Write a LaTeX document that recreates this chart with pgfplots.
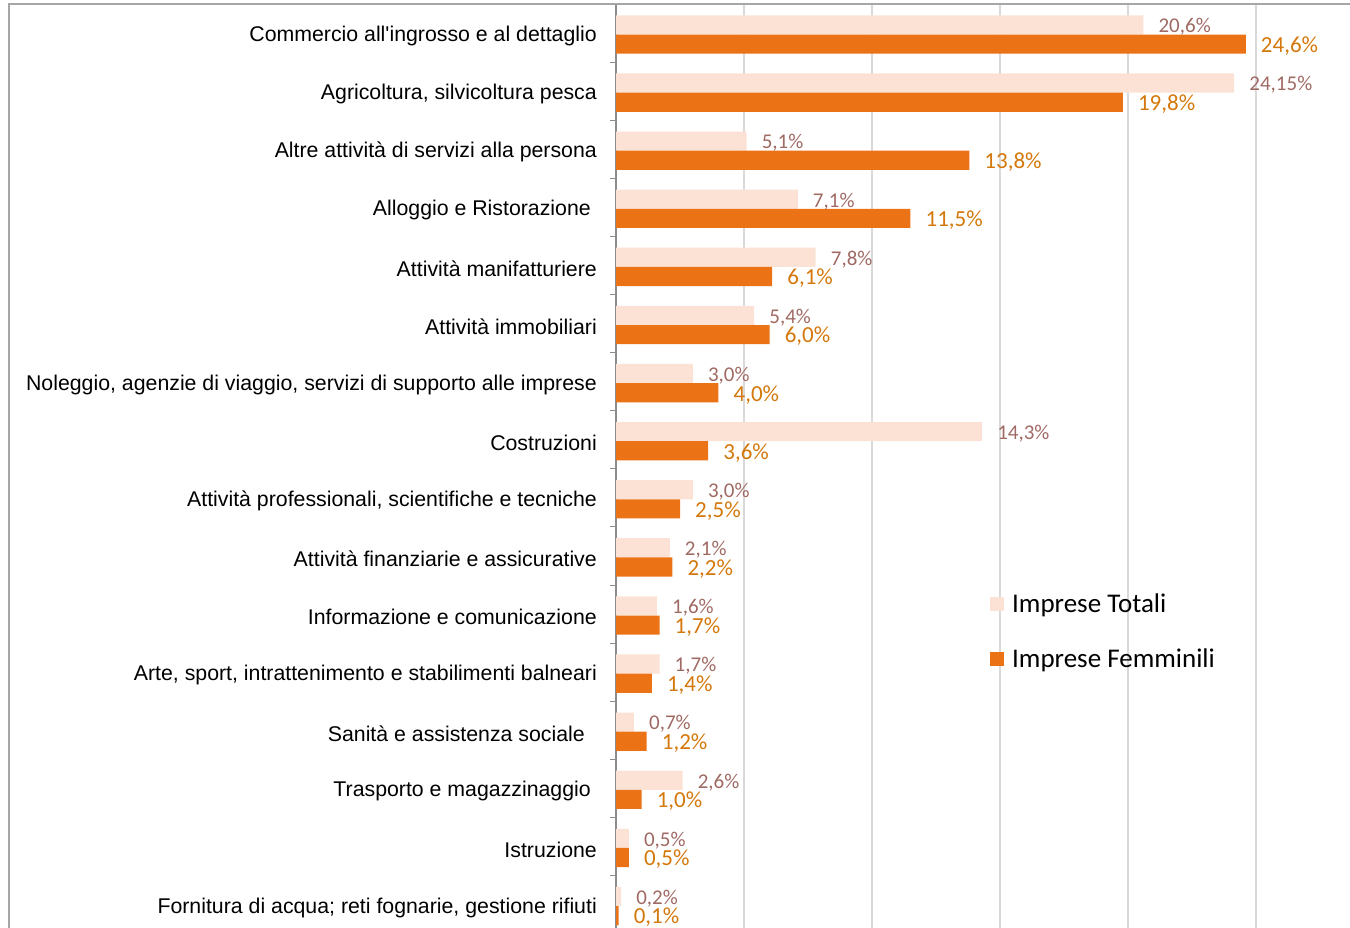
\documentclass[border=0pt]{standalone}
\usepackage{fontspec}
\setmainfont{Liberation Sans}
\newfontfamily\carlito{Carlito}
\usepackage{pgfplots}
\pgfplotsset{compat=1.18}
\definecolor{totcol}{HTML}{FBE2D5}
\definecolor{femcol}{HTML}{EC7216}
\definecolor{totlab}{HTML}{A06A64}
\definecolor{femlab}{HTML}{D4780C}
\definecolor{gridcol}{HTML}{D9D9D9}
\definecolor{axiscol}{HTML}{8C8C8C}
\definecolor{framecol}{HTML}{A6A6A6}

\begin{document}
\begin{tikzpicture}
\begin{axis}[
  at={(616bp,-4bp)}, anchor=north west,
  scale only axis, width=768bp, height=929.6bp,
  xbar, bar width=0.33,
  xmin=0, xmax=30,
  ymin=-0.5, ymax=15.5, y dir=reverse,
  axis lines=left,
  axis line style={-, draw=axiscol, line width=1.2bp},
  xtick={5,10,...,30}, xticklabels={},
  xmajorgrids, grid style={gridcol, line width=1.5bp},
  ytick={0,...,15},
  yticklabels={
    {Commercio all\textquotesingle ingrosso e al dettaglio},
    {Agricoltura, silvicoltura pesca},
    {Altre attività di servizi alla persona},
    {Alloggio e Ristorazione\kern6bp},
    {Attività manifatturiere},
    {Attività immobiliari},
    {Noleggio, agenzie di viaggio, servizi di supporto alle imprese},
    {Costruzioni},
    {Attività professionali, scientifiche e tecniche},
    {Attività finanziarie e assicurative},
    {Informazione e comunicazione},
    {Arte, sport, intrattenimento e stabilimenti balneari},
    {Sanità e assistenza sociale\kern12bp},
    {Trasporto e magazzinaggio\kern6bp},
    {Istruzione},
    {Fornitura di acqua; reti fognarie, gestione rifiuti}},
  minor ytick={-0.5,0.5,...,15.5},
  major tick length=0pt, minor tick length=6bp, tick align=outside,
  minor tick style={draw=axiscol, line width=1bp},
  yticklabel style={font=\fontsize{21.3bp}{25bp}\selectfont, inner sep=0pt,
    xshift=-19bp, yshift=-3bp, anchor=east},
  legend cell align=left,
  legend style={at={(0.483,0.3675)}, anchor=north west, draw=none, fill=none,
    font=\carlito\fontsize{27bp}{31bp}\selectfont, row sep=34bp, column sep=8bp,
    nodes={inner sep=0pt}},
]
\addplot[fill=totcol, draw=none, bar shift=-0.14,
  nodes near coords, point meta=explicit symbolic,
  every node near coord/.append style={font=\carlito\fontsize{21bp}{24bp}\selectfont,
    text=totlab, anchor=west, inner sep=0pt, xshift=15bp, yshift=-2bp},
  legend image code/.code={\fill[totcol] (0bp,-7bp) rectangle (14bp,7bp);}]
coordinates {
  (20.6,0) [20,6\%]
  (24.15,1) [24,15\%]
  (5.1,2) [5,1\%]
  (7.1,3) [7,1\%]
  (7.8,4) [7,8\%]
  (5.4,5) [5,4\%]
  (3.0,6) [3,0\%]
  (14.3,7) [14,3\%]
  (3.0,8) [3,0\%]
  (2.1,9) [2,1\%]
  (1.6,10) [1,6\%]
  (1.7,11) [1,7\%]
  (0.7,12) [0,7\%]
  (2.6,13) [2,6\%]
  (0.5,14) [0,5\%]
  (0.2,15) [0,2\%]
};
\addplot[fill=femcol, draw=none, bar shift=0.19,
  nodes near coords, point meta=explicit symbolic,
  every node near coord/.append style={font=\carlito\fontsize{23bp}{26bp}\selectfont,
    text=femlab, anchor=west, inner sep=0pt, xshift=15bp, yshift=-2bp},
  legend image code/.code={\fill[femcol] (0bp,-7bp) rectangle (14bp,7bp);}]
coordinates {
  (24.6,0) [24,6\%]
  (19.8,1) [19,8\%]
  (13.8,2) [13,8\%]
  (11.5,3) [11,5\%]
  (6.1,4) [6,1\%]
  (6.0,5) [6,0\%]
  (4.0,6) [4,0\%]
  (3.6,7) [3,6\%]
  (2.5,8) [2,5\%]
  (2.2,9) [2,2\%]
  (1.7,10) [1,7\%]
  (1.4,11) [1,4\%]
  (1.2,12) [1,2\%]
  (1.0,13) [1,0\%]
  (0.5,14) [0,5\%]
  (0.1,15) [0,1\%]
};
\legend{Imprese Totali, Imprese Femminili}
\end{axis}
\draw[framecol, line width=2bp] (9bp,-928bp) -- (9bp,-4bp) -- (1350bp,-4bp);
\pgfresetboundingbox
\path[use as bounding box] (0,0) rectangle (1350bp,-928bp);
\end{tikzpicture}
\end{document}
